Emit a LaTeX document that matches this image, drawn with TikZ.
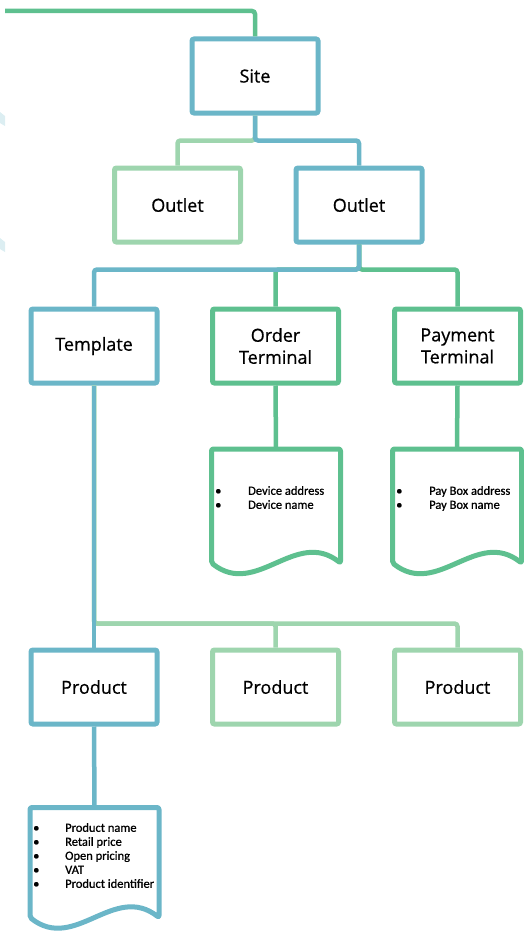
\documentclass[tikz,border=0pt]{standalone}
\usepackage{fontspec}
\setmainfont{Open Sans}
\newfontfamily\boxfont{Open Sans}[FakeBold=0.7]
\newfontfamily\listfont{Carlito}[FakeBold=0.9]
\definecolor{siteblue}{HTML}{6BB6C8}
\definecolor{termgreen}{HTML}{5EC08F}
\definecolor{palegreen}{HTML}{9ED5AE}
\definecolor{faintblue}{HTML}{DCEEF2}
\tikzset{
  box/.style={draw=#1, text=black, line width=5pt, rounded corners=2pt, fill=white, minimum width=126pt, minimum height=74pt, inner sep=0pt, align=center, font=\boxfont\fontsize{18}{22}\selectfont},
  doc/.style={minimum width=129pt, minimum height=114pt, inner sep=0pt, outer sep=0pt},
  docline/.style={line width=5pt, rounded corners=2pt, line join=round},
  link/.style={line width=4.5pt, rounded corners=3pt},
  bullets/.style={anchor=west, inner sep=0pt, align=left, font=\listfont\fontsize{12.5}{14}\selectfont},
}
\begin{document}
\begin{tikzpicture}[x=1pt, y=-1pt]
\useasboundingbox (0,0) rectangle (524,934);
% faint bits at the left edge
\fill[faintblue] (0,112) -- (5,116) -- (5,126) -- (0,123) -- cycle;
\fill[faintblue] (0,238) -- (5,242) -- (5,252) -- (0,249) -- cycle;
% boxes
\node[box=siteblue] (site) at (255,76) {Site};
\node[box=palegreen] (outleta) at (177.5,205) {Outlet};
\node[box=siteblue] (outletb) at (359,205) {Outlet};
\node[box=siteblue] (tmpl) at (94,346) {Template};
\node[box=termgreen] (ordterm) at (275.5,346) {Order\\Terminal};
\node[box=termgreen] (payterm) at (457.5,346) {Payment\\Terminal};
\node[box=siteblue] (proda) at (94,687) {Product};
\node[box=palegreen] (prodb) at (275.5,687) {Product};
\node[box=palegreen] (prodc) at (457.5,687) {Product};
% documents
\node[doc] (orddoc) at (276,506) {};
\node[doc] (paydoc) at (457,506) {};
\node[doc, minimum height=110pt] (proddoc) at (94.5,862.5) {};
\draw[docline, termgreen] (orddoc.south west) .. controls +(45,35) and +(-45,-35) .. (orddoc.south east) -- (orddoc.north east) -- (orddoc.north west) -- cycle;
\draw[docline, termgreen] (paydoc.south west) .. controls +(45,35) and +(-45,-35) .. (paydoc.south east) -- (paydoc.north east) -- (paydoc.north west) -- cycle;
\draw[docline, siteblue] (proddoc.south west) .. controls +(45,35) and +(-45,-35) .. (proddoc.south east) -- (proddoc.north east) -- (proddoc.north west) -- cycle;
\node[bullets] (ordlist) at (215,499) {\begin{tabular}{@{}p{33pt}@{}l@{}}\textbullet & Device address\\ \textbullet & Device name\end{tabular}};
\node[bullets] (paylist) at (396,499) {\begin{tabular}{@{}p{33pt}@{}l@{}}\textbullet & Pay Box address\\ \textbullet & Pay Box name\end{tabular}};
\node[bullets] (prodlist) at (33,857) {\begin{tabular}{@{}p{32pt}@{}l@{}}\textbullet & Product name\\ \textbullet & Retail price\\ \textbullet & Open pricing\\ \textbullet & VAT\\ \textbullet & Product identifier\end{tabular}};
% links
\coordinate (feed) at (5,11);
\draw[link, termgreen] (feed) -| (site.north);
\draw[link, palegreen] (site.south) -- ++(0,25) -| (outleta.north);
\draw[link, siteblue] (site.south) -- ++(0,25) -| (outletb.north);
\draw[link, termgreen] (outletb.south) -- ++(0,25) -| (ordterm.north);
\draw[link, termgreen] (outletb.south) -- ++(0,25) -| (payterm.north);
\draw[link, siteblue] (outletb.south) -- ++(0,25) -| (tmpl.north);
\draw[link, termgreen] (ordterm.south) -- (orddoc.north);
\draw[link, termgreen] (payterm.south) -- (paydoc.north);
\draw[link, palegreen] (tmpl.south) -- ++(0,238) -| (prodb.north);
\draw[link, palegreen] (tmpl.south) -- ++(0,238) -| (prodc.north);
\draw[link, siteblue] (tmpl.south) -- (proda.north);
\draw[link, siteblue] (proda.south) -- (proddoc.north);
\end{tikzpicture}
\end{document}
